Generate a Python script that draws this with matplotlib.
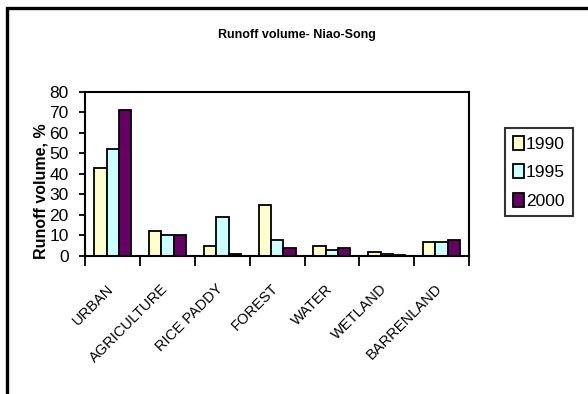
import numpy as np
import matplotlib
matplotlib.use("Agg")
import matplotlib.pyplot as plt
from matplotlib.patches import Rectangle

plt.rcParams["font.family"] = ["Liberation Sans", "DejaVu Sans"]

# ---- Data ----------------------------------------------------------------
categories = ["URBAN", "AGRICULTURE", "RICE PADDY", "FOREST",
              "WATER", "WETLAND", "BARRENLAND"]
years = ["1990", "1995", "2000"]
runoff_1990 = [43, 12, 5, 25, 5, 2, 7]
runoff_1995 = [52, 10, 19, 8, 3, 1, 7]
runoff_2000 = [71, 10, 1, 4, 4, 0.5, 8]
series = [runoff_1990, runoff_1995, runoff_2000]
colors = ["#FFFFCC", "#CCFFFF", "#660066"]

# ---- Figure setup --------------------------------------------------------
fig = plt.figure(figsize=(5.88, 3.94), dpi=100)
ax = fig.add_axes([0.1454, 0.3503, 0.652, 0.4162])

# outer chart frame (runs off the right and bottom edges)
fig.patches.append(Rectangle((6.5 / 588, -0.2), 2.0, 1.2 - 8 / 394,
                             transform=fig.transFigure, fill=False,
                             edgecolor="black", linewidth=2.4))

x = np.arange(len(categories))
width = 0.225
handles = []
for i, (vals, col, yr) in enumerate(zip(series, colors, years)):
    b = ax.bar(x + (i - 1) * width, vals, width=width, color=col,
               edgecolor="black", linewidth=1.3, label=yr)
    handles.append(b)

ax.set_xlim(-0.5, len(categories) - 0.5)
ax.set_ylim(0, 80)
ax.set_yticks(range(0, 81, 10))
ax.tick_params(axis="y", labelsize=12.5, length=4, width=1.3, pad=8)

# category ticks sit between groups, labels under the group centres
ax.set_xticks(np.arange(len(categories) + 1) - 0.5)
ax.set_xticklabels([])
ax.tick_params(axis="x", length=7, width=1.3)
for xi, name in zip(x, categories):
    ax.text(xi - 0.12, -12.5, name, rotation=45, ha="right", va="top",
            fontsize=10.5, rotation_mode="anchor")

for sp in ax.spines.values():
    sp.set_linewidth(1.5)

fig.text(41 / 588, 1 - 191 / 394, "Runoff volume, %", rotation=90,
         ha="center", va="center", fontsize=11.5, fontweight="bold")

fig.text(297 / 588, 1 - 35 / 394, "Runoff volume- Niao-Song",
         ha="center", va="center", fontsize=9, fontweight="bold")

leg = fig.legend(handles=handles, labels=years, loc="upper left",
                 bbox_to_anchor=(505 / 588, 1 - 128 / 394),
                 fontsize=12.5, frameon=True, fancybox=False,
                 handlelength=0.65, handleheight=0.85, handletextpad=0.1,
                 borderpad=0.45, labelspacing=0.72, borderaxespad=0)
leg.get_frame().set_edgecolor("black")
leg.get_frame().set_linewidth(1.5)

fig.savefig("out.png", dpi=100)
